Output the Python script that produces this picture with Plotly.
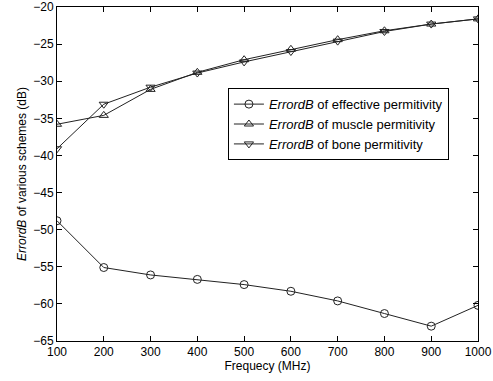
import plotly.graph_objects as go

freq = [100, 200, 300, 400, 500, 600, 700, 800, 900, 1000]
effective = [-48.8, -55.1, -56.1, -56.7, -57.4, -58.3, -59.6, -61.3, -63.0, -60.2]
muscle = [-35.8, -34.6, -31.1, -28.8, -27.1, -25.7, -24.4, -23.2, -22.3, -21.6]
bone = [-39.1, -33.1, -30.8, -28.9, -27.4, -26.0, -24.6, -23.3, -22.3, -21.6]
names = ["<i>ErrordB</i> of effective permitivity",
         "<i>ErrordB</i> of muscle permitivity",
         "<i>ErrordB</i> of bone permitivity"]
symbols = ["circle-open", "triangle-up-open", "triangle-down-open"]

fig = go.Figure()
for ys, nm, sym in zip([effective, muscle, bone], names, symbols):
    fig.add_trace(go.Scatter(x=freq, y=ys, mode="lines+markers", name=nm,
                             line=dict(color="#222", width=1),
                             marker=dict(symbol=sym, size=8, color="#222",
                                         line=dict(width=1, color="#222"))))

axis_common = dict(showline=True, linecolor="black", linewidth=1, mirror="ticks",
                   ticks="inside", ticklen=5, tickcolor="black", showgrid=False,
                   zeroline=False, automargin=False,
                   tickfont=dict(size=12, color="black"))
fig.update_layout(
    width=493, height=381,
    margin=dict(l=57, r=15, t=7, b=40),
    paper_bgcolor="white", plot_bgcolor="white",
    font=dict(family="Liberation Sans, Arial", size=12, color="black"),
    xaxis=dict(range=[100, 1000], dtick=100,
               title=dict(text="Frequecy (MHz)", standoff=2, font=dict(size=12)),
               **axis_common),
    yaxis=dict(range=[-65, -20], dtick=5,
               title=dict(text="<i>ErrordB</i> of various schemes (dB)", standoff=4, font=dict(size=12)),
               **axis_common),
    legend=dict(x=0.406, y=0.757, xanchor="left", yanchor="top",
                bordercolor="black", borderwidth=1, bgcolor="white",
                font=dict(size=13), itemwidth=30, tracegroupgap=0),
    showlegend=True,
)
fig.write_html("out.html")
